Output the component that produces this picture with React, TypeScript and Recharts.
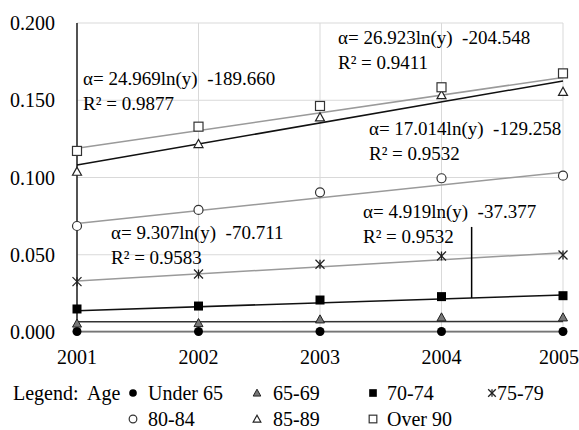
import {
  CartesianGrid,
  Legend,
  Line,
  LineChart,
  ReferenceDot,
  ReferenceLine,
  XAxis,
  YAxis,
} from "recharts";

const years = [2001, 2002, 2003, 2004, 2005];
const yTicks = [0, 0.05, 0.1, 0.15, 0.2];

// observed values per age group
const under65 = [0.0003, 0.0003, 0.0003, 0.0003, 0.0003];
const age6569 = [0.0055, 0.0058, 0.0082, 0.0095, 0.0095];
const age7074 = [0.0149, 0.0168, 0.0207, 0.0229, 0.0235];
const age7579 = [0.0326, 0.0375, 0.0438, 0.0492, 0.0498];
const age8084 = [0.0686, 0.079, 0.0904, 0.0995, 0.1012];
const age8589 = [0.1038, 0.1217, 0.139, 0.1534, 0.1555];
const over90 = [0.1172, 0.1329, 0.1463, 0.1584, 0.1674];

// trend line ends (2001, 2005)
const trendUnder65 = [0.0003, 0.0003];
const trend6569 = [0.0066, 0.0068];
const trend7074 = [0.0138, 0.024];
const trend7579 = [0.033, 0.0513];
const trend8084 = [0.0703, 0.1034];
const trend8589 = [0.1081, 0.1625];
const trendOver90 = [0.1189, 0.1648];

const notes = [
  { x: 2001.05, y: 0.1644, lines: ["α= 24.969ln(y)  -189.660", "R² = 0.9877"] },
  { x: 2003.148, y: 0.1909, lines: ["α= 26.923ln(y)  -204.548", "R² = 0.9411"] },
  { x: 2003.403, y: 0.132, lines: ["α= 17.014ln(y)  -129.258", "R² = 0.9532"] },
  { x: 2001.28, y: 0.0641, lines: ["α= 9.307ln(y)  -70.711", "R² = 0.9583"] },
  { x: 2003.354, y: 0.0777, lines: ["α= 4.919ln(y)  -37.377", "R² = 0.9532"] },
];

type Shape = "dot" | "tri" | "sq" | "star" | "circle" | "otri" | "osq";

const series: {
  key: string;
  name: string;
  values: number[];
  trend: number[];
  trendColor: string;
  shape: Shape;
}[] = [
  { key: "u65", name: "Under 65", values: under65, trend: trendUnder65, trendColor: "#555", shape: "dot" },
  { key: "a65", name: "65-69", values: age6569, trend: trend6569, trendColor: "#333", shape: "tri" },
  { key: "a70", name: "70-74", values: age7074, trend: trend7074, trendColor: "#111", shape: "sq" },
  { key: "a75", name: "75-79", values: age7579, trend: trend7579, trendColor: "#9a9a9a", shape: "star" },
  { key: "a80", name: "80-84", values: age8084, trend: trend8084, trendColor: "#9a9a9a", shape: "circle" },
  { key: "a85", name: "85-89", values: age8589, trend: trend8589, trendColor: "#111", shape: "otri" },
  { key: "o90", name: "Over 90", values: over90, trend: trendOver90, trendColor: "#9a9a9a", shape: "osq" },
];

const data = years.map((year, i) => {
  const row: Record<string, number | null> = { year };
  series.forEach((s) => {
    row[s.key] = s.values[i];
    row[s.key + "T"] = i === 0 ? s.trend[0] : i === years.length - 1 ? s.trend[1] : null;
  });
  return row;
});

const FONT = '"Liberation Serif", "DejaVu Serif", "Times New Roman", Times, serif';

function Marker({ cx, cy, shape, size = 1 }: { cx: number; cy: number; shape: Shape; size?: number }) {
  const r = 4.5 * size;
  switch (shape) {
    case "dot":
      return <circle cx={cx} cy={cy} r={r} fill="#000" />;
    case "circle":
      return <circle cx={cx} cy={cy} r={r} fill="#fff" stroke="#333" strokeWidth={1.2} />;
    case "sq":
      return <rect x={cx - r} y={cy - r} width={2 * r} height={2 * r} fill="#000" />;
    case "osq":
      return <rect x={cx - r} y={cy - r} width={2 * r} height={2 * r} fill="#fff" stroke="#333" strokeWidth={1.2} />;
    case "tri":
      return (
        <polygon
          points={`${cx},${cy - r} ${cx - r},${cy + r * 0.8} ${cx + r},${cy + r * 0.8}`}
          fill="#777"
          stroke="#222"
          strokeWidth={1}
        />
      );
    case "otri":
      return (
        <polygon
          points={`${cx},${cy - r} ${cx - r},${cy + r * 0.8} ${cx + r},${cy + r * 0.8}`}
          fill="#fff"
          stroke="#222"
          strokeWidth={1.2}
        />
      );
    case "star":
      return (
        <g stroke="#222" strokeWidth={1.3}>
          <line x1={cx - r} y1={cy - r} x2={cx + r} y2={cy + r} />
          <line x1={cx - r} y1={cy + r} x2={cx + r} y2={cy - r} />
          <line x1={cx} y1={cy - r} x2={cx} y2={cy + r} />
        </g>
      );
  }
}

const noteLabel = (lines: string[]) => (props: any) => {
  const { x, y } = props.viewBox;
  return (
    <g>
      {lines.map((t, i) => (
        <text
          key={i}
          x={x}
          y={y + i * 25}
          dominantBaseline="central"
          fontFamily={FONT}
          fontSize={19}
          fill="#000"
          style={{ whiteSpace: "pre" }}
        >
          {t}
        </text>
      ))}
    </g>
  );
};

// symbol centre / text start for each legend column
const legendSymX = [133, 257, 373, 492];
const legendTextX = [148, 273, 387, 497];
const legendRowY = [31, 57];

function AgeLegend() {
  const line = { position: "absolute" as const, lineHeight: "20px", height: 20, whiteSpace: "nowrap" as const };
  return (
    <div style={{ position: "relative", width: 579, height: 68, fontFamily: FONT, fontSize: 20, color: "#000" }}>
      <span style={{ ...line, left: 13, top: legendRowY[0] - 10 }}>Legend:</span>
      <span style={{ ...line, left: 87, top: legendRowY[0] - 10 }}>Age</span>
      {series.map((s, i) => {
        const col = i % 4;
        const row = Math.floor(i / 4);
        const cy = legendRowY[row];
        return (
          <div key={s.key}>
            <svg
              width={14}
              height={14}
              style={{ position: "absolute", left: legendSymX[col] - 7, top: cy - 7 }}
            >
              <Marker cx={7} cy={7} shape={s.shape} size={0.85} />
            </svg>
            <span style={{ ...line, left: legendTextX[col], top: cy - 10 }}>{s.name}</span>
          </div>
        );
      })}
    </div>
  );
}

export default function App() {
  return (
    <div style={{ position: "absolute", left: 0, top: 0, width: 579, height: 430, background: "#fff" }}>
      <LineChart width={579} height={430} data={data} margin={{ top: 23, right: 16, bottom: 0, left: 0 }}>
        <CartesianGrid stroke="#d9d9d9" strokeWidth={1} />
        <XAxis
          dataKey="year"
          type="number"
          domain={[2001, 2005]}
          ticks={years}
          tickLine={false}
          tickSize={8}
          tickMargin={10}
          height={30}
          axisLine={{ stroke: "#999" }}
          tick={{ fill: "#000", fontSize: 20, fontFamily: FONT }}
        />
        <YAxis
          type="number"
          domain={[0, 0.2]}
          ticks={yTicks}
          width={77}
          tickLine={false}
          tickSize={10}
          tickMargin={12}
          axisLine={{ stroke: "#000", strokeWidth: 1.3 }}
          tickFormatter={(v: number) => v.toFixed(3)}
          tick={{ fill: "#000", fontSize: 20, fontFamily: FONT }}
        />
        {series.map((s) => (
          <Line
            key={s.key + "T"}
            dataKey={s.key + "T"}
            stroke={s.trendColor}
            strokeWidth={1.5}
            dot={false}
            activeDot={false}
            connectNulls
            legendType="none"
            isAnimationActive={false}
          />
        ))}
        {series.map((s) => (
          <Line
            key={s.key}
            dataKey={s.key}
            name={s.name}
            stroke="none"
            activeDot={false}
            isAnimationActive={false}
            dot={(p: any) =>
              p.cx == null || p.cy == null ? (
                <g key={`${s.key}-${p.index}`} />
              ) : (
                <g key={`${s.key}-${p.index}`}>
                  <Marker cx={p.cx} cy={p.cy} shape={s.shape} />
                </g>
              )
            }
          />
        ))}
        <ReferenceLine
          segment={[
            { x: 2004.248, y: 0.068 },
            { x: 2004.248, y: 0.022 },
          ]}
          stroke="#000"
          strokeWidth={1.5}
        />
        {notes.map((n, i) => (
          <ReferenceDot key={i} x={n.x} y={n.y} r={0} fill="none" stroke="none" label={noteLabel(n.lines)} />
        ))}
        <Legend verticalAlign="bottom" wrapperStyle={{ left: 0, width: 579 }} content={() => <AgeLegend />} />
      </LineChart>
    </div>
  );
}
